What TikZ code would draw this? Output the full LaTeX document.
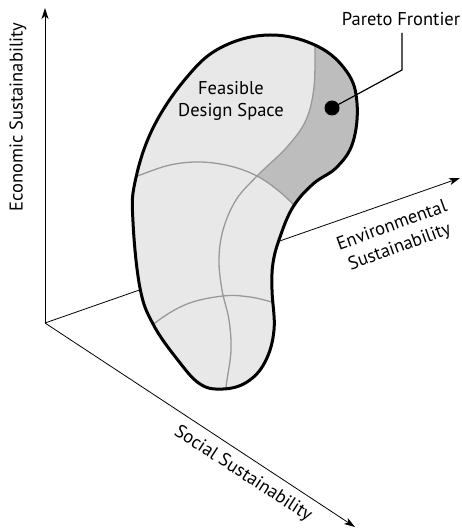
\documentclass[tikz,border=0pt]{standalone}
\usepackage{fontspec}
\setmainfont{PT Sans}
\usetikzlibrary{arrows.meta}
\begin{document}
\begin{tikzpicture}[x=1pt,y=-1pt,
  axis/.style={line width=0.8pt,-{Stealth[length=11pt,width=7pt,inset=3pt]}},
  lbl/.style={font=\fontsize{18.5}{22.5}\selectfont, inner sep=0pt, align=center},
  grid/.style={draw=black!40, line width=1.3pt},
  outline/.style={draw=black, line width=3pt},
  leader/.style={line width=1.2pt}]
\useasboundingbox (0,0) rectangle (461,529);
\def\blobpath{plot[smooth cycle, tension=0.65] coordinates {(270,35) (317,46) (347,72) (357,103) (353,142) (337,167) (313,184) (293,207) (280,237) (273,263) (272,290) (274,330) (265,362) (247,382) (223,389) (200,384) (177,359) (153,324) (140,288) (133,222) (135,182) (153,128) (187,77) (222,47)}}
% axes
\coordinate (O) at (45,323);
\coordinate (ytop) at (45,8);
\coordinate (env) at (460,178);
\coordinate (soc) at (355,527);
\draw[axis] (O) -- (ytop);
\draw[axis] (O) -- (env);
\draw[axis] (O) -- (soc);
% blob
\fill[black!9] \blobpath;
\begin{scope}
  \clip \blobpath;
  \fill[black!26] plot[smooth, tension=0.6] coordinates {(316,10) (315,45) (314,87) (306,120) (287,147) (257,176)}
     -- plot[smooth, tension=0.6] coordinates {(257,176) (280,192) (300,212) (320,240)} -- (400,240) -- (400,10) -- cycle;
  \draw[grid] plot[smooth, tension=0.6] coordinates {(316,10) (315,45) (314,87) (306,120) (287,147) (257,176) (236,200) (223,230) (219,260) (222,290) (229,320) (231,350) (227,380) (224,400)};
  \draw[grid] plot[smooth, tension=0.6] coordinates {(120,182) (140,175) (170,165) (200,162) (230,166) (257,176) (280,192) (300,212) (320,240)};
  \draw[grid] plot[smooth, tension=0.6] coordinates {(135,345) (155,323) (187,304) (223,296) (250,297) (275,303) (295,310)};
\end{scope}
\draw[outline] \blobpath;
% labels
\node[lbl, rotate=90] (econ) at (18,117) {Economic Sustainability};
\node[lbl, rotate=20] (envl) at (396,237) {Environmental\\Sustainability};
\node[lbl, rotate=-33] (socl) at (243,474) {Social Sustainability};
\node[lbl] (fds) at (231,101) {Feasible\\Design Space};
\node[lbl, anchor=south] (pf) at (401,26) {Pareto Frontier};
\node[circle, fill=black, minimum size=15pt, inner sep=0pt] (dot) at (332,108) {};
\coordinate (bend) at (402,70);
\draw[leader] (402,33) -- (bend) -- (dot.center);
\end{tikzpicture}
\end{document}
